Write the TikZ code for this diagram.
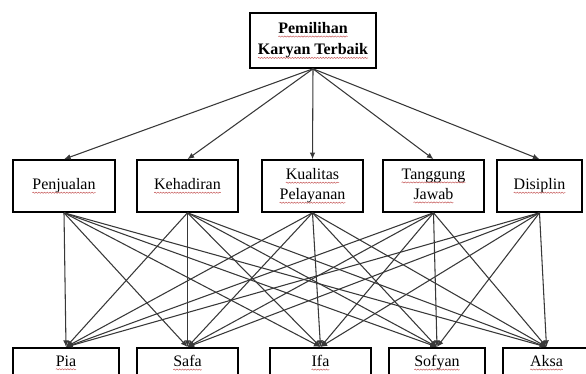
\documentclass[tikz,border=0pt]{standalone}
\usepackage{fontspec}
\setmainfont{Liberation Serif}
\usepackage{tikz}
\usetikzlibrary{arrows.meta,positioning,decorations.pathmorphing}
\definecolor{LinkGray}{RGB}{56,56,56}
\definecolor{SpellRed}{RGB}{196,86,86}

% red wavy underline as in the word processor
\newcommand{\spell}[1]{\tikz[baseline=(w.base)]{\node[draw=none,inner sep=0pt,outer sep=0pt,
    minimum width=0pt,minimum height=0pt,anchor=base] (w) at (0pt,0pt) {#1};
  \draw[SpellRed,line width=0.35pt,decorate,decoration={snake,amplitude=0.45pt,segment length=2.1pt}]
    ([yshift=-2.4pt]w.base west) -- ([yshift=-2.4pt]w.base east);}}

\begin{document}
\begin{tikzpicture}[x=0.75pt,y=-0.75pt,
  box/.style={draw,line width=1.2pt,align=center,inner sep=0pt,
    font=\fontsize{12}{15}\selectfont},
  crit/.style={box,minimum width=75.75pt,minimum height=39pt},
  alt/.style={box,anchor=north,minimum width=75.75pt,minimum height=22.5pt},
  link/.style={LinkGray,line width=0.8pt,-{Latex[length=5pt,width=4.2pt]}}]
  \useasboundingbox (0,0) rectangle (586,374);

  % goal
  \node[box,minimum width=94.5pt,minimum height=41.25pt,
    font=\fontsize{12}{16}\selectfont\bfseries] (goal) at (313,40.5)
    {\spell{Pemilihan}\\\spell{Karyan Terbaik}};

  % criteria
  \node[crit,minimum width=76.5pt] (c1) at (64,186) {\spell{Penjualan}};
  \node[crit] (c2) at (187.5,186) {\spell{Kehadiran}};
  \node[crit] (c3) at (312.5,186) {\spell{Kualitas}\\\spell{Pelayanan}};
  \node[crit] (c4) at (433.5,186) {\spell{Tanggung}\\\spell{Jawab}};
  \node[crit,minimum width=63.75pt] (c5) at (539.5,186) {\spell{Disiplin}};

  % alternatives
  \node[alt,minimum width=79.5pt] (a1) at (66,347) {\spell{Pia}};
  \node[alt] (a2) at (187.5,347) {\spell{Safa}};
  \node[alt] (a3) at (320.5,347) {\spell{Ifa}};
  \node[alt,minimum width=72pt] (a4) at (437,347) {\spell{Sofyan}};
  \node[alt,minimum width=65.25pt] (a5) at (546.5,347) {\spell{Aksa}};

  \foreach \c in {1,...,5}
    \draw[link] (goal.south) -- (c\c.north);
  \foreach \c in {1,...,5}
    \foreach \a in {1,...,5}
      \draw[link] (c\c.south) -- (a\a.north);
\end{tikzpicture}
\end{document}
